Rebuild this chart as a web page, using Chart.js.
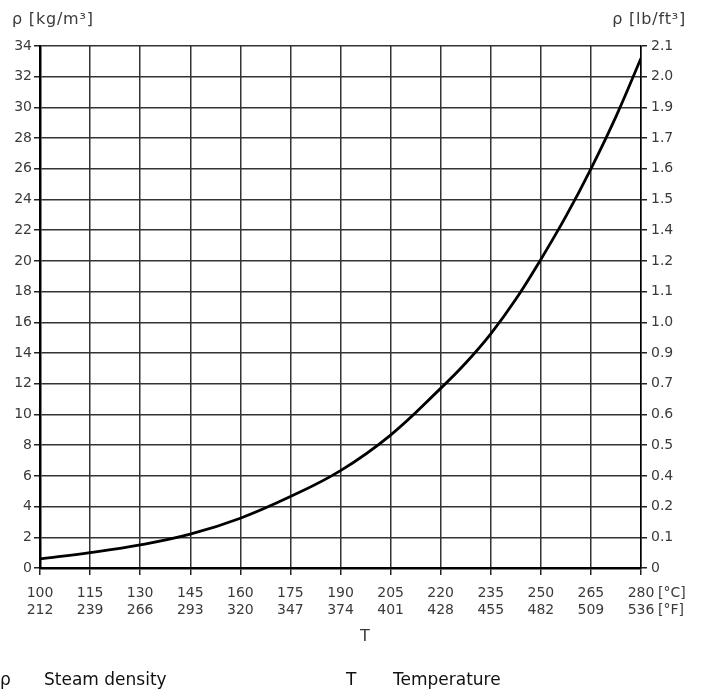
<!DOCTYPE html>
<html>
<head>
<meta charset="utf-8">
<script src="https://cdn.jsdelivr.net/npm/chart.js@4.4.1/dist/chart.umd.min.js"></script>
<style>
    body { margin: 0; background: #fff; }
    #wrap { position: relative; width: 701px; height: 692px; font-family: "DejaVu Sans", sans-serif; color: #3a3a3a; }
    #wrap canvas { position: absolute; left: 0; top: 0; }
    .lbl { position: absolute; font-size: 14px; line-height: 17px; white-space: nowrap; }
    .ttl { position: absolute; font-size: 16px; letter-spacing: 0.8px; white-space: nowrap; }
    .key { position: absolute; font-size: 17px; color: #111; white-space: nowrap; }
</style>
</head>
<body>
<div id="wrap">
    <canvas id="densityChart" width="701" height="692"></canvas>
    <div class="ttl" style="left:12px; top:9px;">ρ [kg/m³]</div>
    <div class="ttl" style="right:15px; top:9px;">ρ [lb/ft³]</div>
    <div class="lbl" style="left:658px; top:584px;">[°C]<br>[°F]</div>
    <div class="ttl" style="left:360px; top:626px;">T</div>
    <div class="key" style="left:0px; top:669px;">ρ</div>
    <div class="key" style="left:44px; top:669px;">Steam density</div>
    <div class="key" style="left:346px; top:669px;">T</div>
    <div class="key" style="left:393px; top:669px;">Temperature</div>
</div>
<script>
// temperature in °C and steam density in kg/m³
const tempC = [100, 115, 130, 145, 160, 175, 190, 205, 220, 227.5, 235, 242.5, 250, 257.5, 265, 272.5, 280];
const density = [0.59, 1.0, 1.5, 2.2, 3.24, 4.65, 6.34, 8.66, 11.7, 13.35, 15.25, 17.5, 20.1, 22.9, 26.0, 29.4, 33.2];

// x tick labels (°C on top, °F underneath)
const tickC = [100, 115, 130, 145, 160, 175, 190, 205, 220, 235, 250, 265, 280];
const tickF = ['212', '239', '266', '293', '320', '347', '374', '401', '428', '455', '482', '509', '536'];

// left axis kg/m³ ticks and the matching lb/ft³ labels on the right
const tickKg = [0, 2, 4, 6, 8, 10, 12, 14, 16, 18, 20, 22, 24, 26, 28, 30, 32, 34];
const tickLb = ['0', '0.1', '0.2', '0.4', '0.5', '0.6', '0.7', '0.9', '1.0', '1.1', '1.2', '1.4', '1.5', '1.6', '1.7', '1.9', '2.0', '2.1'];

const tickFont = { family: '"DejaVu Sans", sans-serif', size: 14, lineHeight: 1.2 };
const gridStyle = { color: '#333', lineWidth: 1.5, tickColor: '#222' };

const ctx = document.getElementById('densityChart').getContext('2d');
new Chart(ctx, {
    type: 'line',
    data: {
        datasets: [{
            data: tempC.map((t, i) => ({ x: t, y: density[i] })),
            borderColor: '#000',
            borderWidth: 2.8,
            pointRadius: 0,
            tension: 0.4,
            fill: false
        }]
    },
    options: {
        responsive: false,
        animation: false,
        devicePixelRatio: 1,
        layout: { padding: { top: 46, left: 0, right: 0, bottom: 0 } },
        plugins: { legend: { display: false }, tooltip: { enabled: false } },
        scales: {
            x: {
                type: 'linear',
                min: tickC[0],
                max: tickC[tickC.length - 1],
                afterBuildTicks: (scale) => { scale.ticks = tickC.map(v => ({ value: v })); },
                afterFit: (scale) => { scale.height = 124; },
                ticks: {
                    autoSkip: false,
                    maxRotation: 0,
                    padding: 10,
                    color: '#3a3a3a',
                    font: tickFont,
                    callback: (v) => [String(v), tickF[tickC.indexOf(v)]]
                },
                grid: { ...gridStyle, tickLength: 7 },
                border: { color: '#000', width: 2.5 }
            },
            y: {
                position: 'left',
                min: 0,
                max: 34,
                afterBuildTicks: (scale) => { scale.ticks = tickKg.map(v => ({ value: v })); },
                afterFit: (scale) => { scale.width = 40; },
                ticks: { autoSkip: false, padding: 2, color: '#3a3a3a', font: tickFont },
                grid: { ...gridStyle, tickLength: 6 },
                border: { color: '#000', width: 2.5 }
            },
            y2: {
                position: 'right',
                min: 0,
                max: 34,
                afterBuildTicks: (scale) => { scale.ticks = tickKg.map(v => ({ value: v })); },
                afterFit: (scale) => { scale.width = 60; },
                ticks: {
                    autoSkip: false,
                    padding: 4,
                    color: '#3a3a3a',
                    font: tickFont,
                    callback: (v) => tickLb[tickKg.indexOf(v)]
                },
                grid: { ...gridStyle, drawOnChartArea: false, tickLength: 6 },
                border: { color: '#000', width: 1.5 }
            }
        }
    }
});
</script>
</body>
</html>
